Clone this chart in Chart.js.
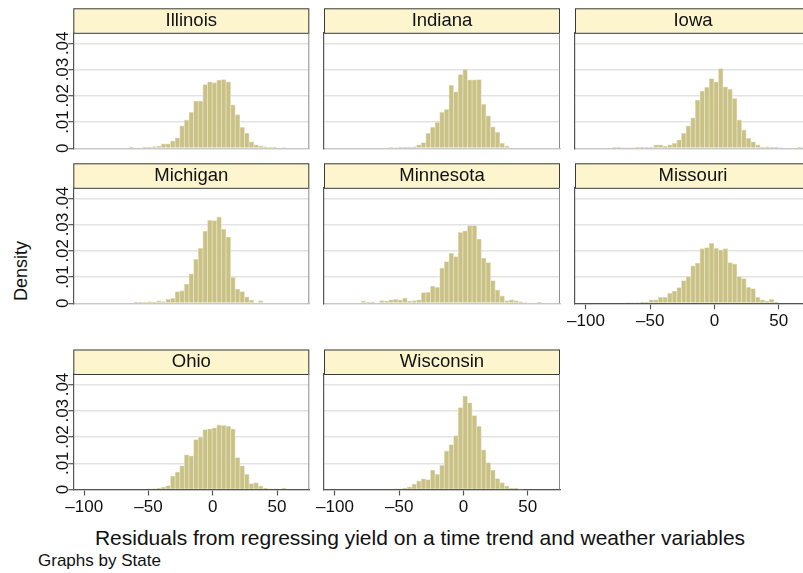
<!DOCTYPE html>
<html>
<head>
<meta charset="utf-8">
<script src="https://cdn.jsdelivr.net/npm/chart.js@4.4.1/dist/chart.umd.min.js"></script>
<style>
  html, body { margin: 0; padding: 0; background: #fff; }
  body { position: relative; width: 803px; height: 573px; overflow: hidden;
         font-family: "Liberation Sans", Arial, sans-serif; color: #111; }
  canvas { position: absolute; }
  .txt { position: absolute; white-space: nowrap; line-height: 1; }
  #ytitle { left: 21px; top: 271px; font-size: 18px; transform: translate(-50%, -50%) rotate(-90deg); }
  #xtitle { left: 420px; top: 537px; font-size: 21px; transform: translate(-50%, -50%); }
  #note { left: 38px; top: 560px; font-size: 17px; transform: translateY(-50%); }
</style>
</head>
<body>
<div id="ytitle" class="txt">Density</div>
<div id="xtitle" class="txt">Residuals from regressing yield on a time trend and weather variables</div>
<div id="note" class="txt">Graphs by State</div>
<script>
// Centros de las clases del histograma (ancho 3.6)
const binCenters = [
  -106.7, -103.1, -99.5, -95.9, -92.3, -88.7, -85.1, -81.5, -77.9, -74.3,
  -70.7, -67.1, -63.5, -59.9, -56.3, -52.7, -49.1, -45.5, -41.9, -38.3,
  -34.7, -31.1, -27.5, -23.9, -20.3, -16.7, -13.1, -9.5, -5.9, -2.3,
  1.3, 4.9, 8.5, 12.1, 15.7, 19.3, 22.9, 26.5, 30.1, 33.7,
  37.3, 40.9, 44.5, 48.1, 51.7, 55.3, 58.9, 62.5, 66.1, 69.7,
  73.3
];
const xMin = -108.5, xMax = 75.1;
const xTicks = [-100, -50, 0, 50];
const yTicks = [0, 0.01, 0.02, 0.03, 0.04];
const yTickLabels = ['0', '.01', '.02', '.03', '.04'];
const yMax = 0.044;

const states = ['Illinois', 'Indiana', 'Iowa', 'Michigan', 'Minnesota', 'Missouri', 'Ohio', 'Wisconsin'];

// Densidades
const illinois = [
  0, 0, 0, 0, 0, 0, 0, 0, 0, 0,
  0, 0, .0004, 0, 0, .0004, .0005, .0007, .0008, .0017,
  .0017, .0028, .004, .0086, .0108, .0137, .018, .018, .0243, .0253,
  .025, .026, .0262, .0253, .0166, .0128, .008, .0058, .0025, .0013,
  .0009, .0006, .0005, .0004, 0, .0003, 0, 0, 0, 0,
  0
];
const indiana = [
  0, 0, 0, 0, 0, 0, 0, 0, 0, 0,
  0, 0, 0, 0, .0002, .0003, .0004, .0004, .0005, .0006,
  .0013, .0022, .0057, .008, .0099, .0137, .0148, .024, .0215, .0281,
  .0301, .0261, .0261, .0262, .0168, .0124, .0082, .0061, .0019, .0009,
  0, 0, 0, 0, 0, 0, 0, 0, 0, 0,
  0
];
const iowa = [
  0, 0, 0, 0, 0, 0, 0, 0, .0002, .0002,
  .0003, .0003, .0003, .0004, .0004, .0004, .0004, .0013, .0013, .0008,
  .0013, .0019, .0032, .0057, .0086, .0116, .0184, .0218, .0232, .0266,
  .0253, .0304, .0234, .0225, .019, .0108, .007, .0038, .0025, .0013,
  .0005, .0006, .0004, .0004, .0003, 0, 0, 0, .0004, .0003,
  0
];
const michigan = [
  0, 0, 0, 0, 0, 0, 0, 0, 0, 0,
  0, 0, 0, .0004, .0004, .0002, .0006, .0004, .0009, .0006,
  .0015, .0019, .0045, .0048, .0073, .0112, .0168, .021, .0275, .0316,
  .0315, .0329, .0282, .0252, .0099, .0054, .0045, .0025, .0012, 0,
  .001, 0, 0, 0, 0, 0, 0, 0, 0, 0,
  0
];
const minnesota = [
  0, 0, 0, 0, 0, 0, 0, 0, .0009, .0005,
  .0005, 0, .001, .0008, .0013, .0015, .0013, .002, .0008, .001,
  .0013, .0041, .0042, .0066, .0061, .0134, .0159, .0191, .0178, .027,
  .0276, .0296, .0296, .0245, .0172, .0155, .0087, .0051, .0028, .001,
  .0013, .001, .0006, .0003, 0, 0, .0005, 0, 0, 0,
  0
];
const missouri = [
  0, 0, 0, 0, 0, 0, 0, 0, 0, 0,
  0, .0003, .0003, .0003, .0004, .0004, .0013, .0013, .0023, .0023,
  .0038, .0047, .006, .0087, .0102, .0143, .0153, .0208, .0212, .0229,
  .021, .0204, .0208, .0155, .015, .0102, .0094, .0061, .0056, .0023,
  .0013, .0008, .0015, .0004, 0, 0, 0, 0, 0, 0,
  0
];
const ohio = [
  0, 0, 0, 0, 0, 0, 0, 0, 0, 0,
  0, 0, 0, 0, 0, 0, .0003, .0003, .0004, .0009,
  .0015, .0051, .0067, .009, .0132, .0128, .019, .0199, .0228, .0231,
  .0235, .0246, .0244, .0241, .0231, .0122, .009, .0058, .0023, .0026,
  .0013, .0004, .0003, .0003, 0, .0004, 0, 0, 0, 0,
  0
];
const wisconsin = [
  0, 0, 0, 0, 0, 0, 0, 0, 0, 0,
  0, 0, 0, 0, 0, .0002, .0003, .0004, .001, .0021,
  .0032, .0041, .0038, .0074, .0058, .0092, .0147, .0171, .0205, .0312,
  .0356, .033, .0282, .0241, .0151, .0103, .0074, .0042, .0026, .0013,
  .0005, .0004, .0001, 0, 0, 0, 0, 0, 0, 0,
  0
];
const stateValues = [illinois, indiana, iowa, michigan, minnesota, missouri, ohio, wisconsin];

// Paneles con eje x rotulado
const xLabeled = ['Missouri', 'Ohio', 'Wisconsin'];

// Geometría de la rejilla 3x3
const FONT = '"Liberation Sans", Arial, sans-serif';
const colLeft = [73.3, 324, 575];
const stripTop = [8.3, 163.3, 349.5];
const plotW = 236, stripH = 24.5, plotH = 115.5;
const xAxisH = 28; // alto reservado para los rótulos del eje x

// Franja de título y marco de cada panel
const panelDeco = {
    id: 'panelDeco',
    beforeDraw(chart) {
        const ctx = chart.ctx, tb = chart.titleBlock;
        ctx.save();
        ctx.fillStyle = '#fdf5cd';
        ctx.fillRect(tb.left, tb.top, tb.width, tb.height);
        ctx.strokeStyle = '#3a3a3a';
        ctx.lineWidth = 1;
        ctx.strokeRect(tb.left + 0.5, tb.top + 0.5, tb.width - 1, tb.height);
        ctx.restore();
    },
    afterDraw(chart, args, opts) {
        const ctx = chart.ctx, a = chart.chartArea;
        ctx.save();
        ctx.strokeStyle = '#8c8c8c';
        ctx.lineWidth = 1;
        ctx.beginPath();
        ctx.moveTo(a.right - 0.5, a.top);
        ctx.lineTo(a.right - 0.5, a.bottom);
        ctx.stroke();
        if (opts.yLabels) {
            // Rótulos del eje y en vertical, como en Stata
            const s = chart.scales.y;
            ctx.fillStyle = '#111';
            ctx.font = '17px ' + FONT;
            ctx.textAlign = 'center';
            ctx.textBaseline = 'middle';
            yTicks.forEach((v, i) => {
                ctx.save();
                ctx.translate(a.left - 10, s.getPixelForValue(v));
                ctx.rotate(-Math.PI / 2);
                ctx.fillText(yTickLabels[i], 0, 0);
                ctx.restore();
            });
        }
        ctx.restore();
    }
};

states.forEach((name, i) => {
    const col = i % 3, row = Math.floor(i / 3);
    const hasX = xLabeled.includes(name);
    const left = Math.floor(colLeft[col] - 56);
    const top = Math.floor(stripTop[row] - 3);
    const padL = colLeft[col] - left, padT = stripTop[row] - top;
    const W = Math.ceil(padL + plotW + 4), H = Math.ceil(padT + stripH + plotH + 36);
    const axH = hasX ? xAxisH : 0;
    const padR = W - padL - plotW, padB = H - padT - stripH - plotH - axH;

    const cv = document.createElement('canvas');
    cv.width = W;
    cv.height = H;
    cv.style.left = left + 'px';
    cv.style.top = top + 'px';
    document.body.appendChild(cv);

    new Chart(cv, {
        type: 'bar',
        data: {
            datasets: [{
                data: binCenters.map((c, j) => ({ x: c, y: stateValues[i][j] })),
                backgroundColor: '#c9c186',
                borderColor: '#e4e1bd',
                borderWidth: 0.8,
                barPercentage: 1,
                categoryPercentage: 1
            }]
        },
        options: {
            responsive: false,
            animation: false,
            devicePixelRatio: 1,
            events: [],
            layout: { autoPadding: false, padding: { left: padL, top: padT, right: padR, bottom: padB } },
            plugins: {
                legend: { display: false },
                tooltip: { enabled: false },
                title: {
                    display: true,
                    text: name,
                    color: '#111',
                    font: { family: FONT, size: 18.5, weight: 'normal', lineHeight: 1 },
                    padding: { top: 3, bottom: 3 }
                },
                panelDeco: { yLabels: col === 0 }
            },
            scales: {
                x: {
                    type: 'linear',
                    min: xMin,
                    max: xMax,
                    bounds: 'data',
                    offset: false,
                    afterBuildTicks: s => { s.ticks = xTicks.map(v => ({ value: v })); },
                    afterFit: s => { s.height = axH; },
                    ticks: {
                        display: hasX,
                        autoSkip: false,
                        maxRotation: 0,
                        minRotation: 0,
                        padding: 2,
                        color: '#111',
                        font: { family: FONT, size: 17 },
                        callback: v => (v < 0 ? '\u2013' + Math.abs(v) : String(v))
                    },
                    grid: {
                        display: true,
                        offset: false,
                        drawOnChartArea: false,
                        drawTicks: hasX,
                        tickLength: 6,
                        tickColor: '#555',
                        tickWidth: 1.2
                    },
                    border: { display: true, color: hasX ? '#555' : '#c8c8c8', width: 1.2 }
                },
                y: {
                    min: 0,
                    max: yMax,
                    bounds: 'data',
                    afterBuildTicks: s => { s.ticks = yTicks.map(v => ({ value: v })); },
                    afterFit: s => { s.width = 0; },
                    ticks: { display: false },
                    grid: {
                        color: '#e3e3e3',
                        lineWidth: 1.4,
                        drawTicks: col === 0,
                        tickLength: 5,
                        tickColor: '#555',
                        tickWidth: 1.2
                    },
                    border: { display: true, color: '#555', width: 1.2 }
                }
            }
        },
        plugins: [panelDeco]
    });
});
</script>
</body>
</html>
